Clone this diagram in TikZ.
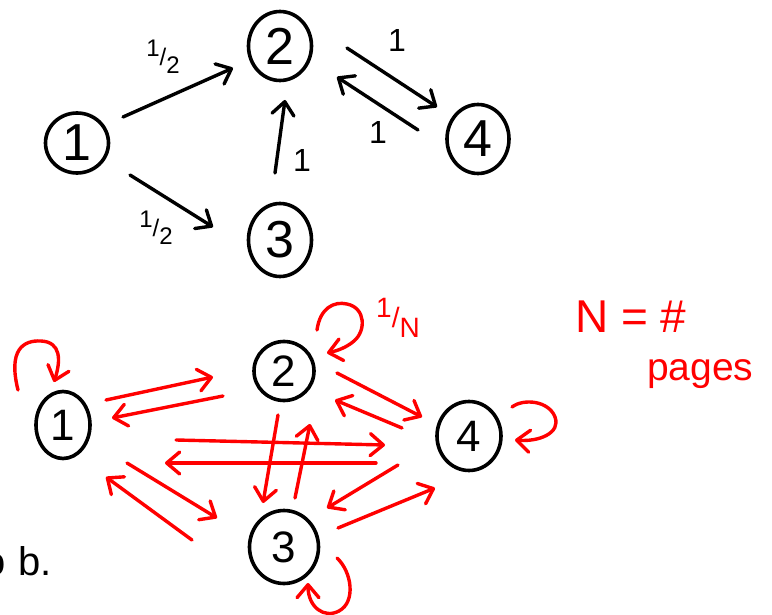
\documentclass[tikz,border=0pt]{standalone}
\usepackage{fontspec}
\setmainfont{Liberation Sans}
\usetikzlibrary{shapes.geometric,arrows.meta,calc}

% small slanted fraction such as 1/2
\newcommand\slfrac[2]{\raisebox{0.36em}{#1}/\raisebox{-0.34em}{#2}}

\tikzset{
  state/.style={ellipse, draw, line width=3.6pt, inner sep=0pt,
                font=\fontsize{52}{52}\selectfont},
  bstate/.style={state, font=\fontsize{44}{44}\selectfont},
  arr/.style={line width=3.4pt, line cap=round, line join=round,
              -{Straight Barb[round,length=13pt,width=22pt]}},
  rarr/.style={arr, red},
  wlabel/.style={inner sep=0pt, font=\fontsize{32}{32}\selectfont},
  flabel/.style={inner sep=0pt, font=\fontsize{24}{24}\selectfont},
}

\begin{document}
\begin{tikzpicture}[x=1pt,y=-1pt]
\useasboundingbox (0,0) rectangle (772,615);

% ---------- upper graph: link weights ----------
\node[state, minimum width=63pt, minimum height=60pt] (n1) at (77,143) {1};
\node[state, minimum width=63pt, minimum height=69pt] (n2) at (280,46) {2};
\node[state, minimum width=63pt, minimum height=73pt] (n3) at (280,240) {3};
\node[state, minimum width=62pt, minimum height=69pt] (n4) at (478,139) {4};

\draw[arr] ($(n1)+(46,-26)$) -- ($(n2)+(-47,22)$);
\draw[arr] ($(n1)+(53,32)$) -- ($(n3)+(-67,-13)$);
\draw[arr] ($(n3)+(-5,-67)$) -- ($(n2)+(5,54)$);
\draw[arr] ($(n2)+(67,2)$) -- ($(n4)+(-41,-32)$);
\draw[arr] ($(n4)+(-60,-9)$) -- ($(n2)+(57,31)$);

\node[flabel] (w12) at (163,57) {\slfrac{1}{2}};
\node[flabel] (w13) at (156,228) {\slfrac{1}{2}};
\node[wlabel] (w32) at (302,160) {1};
\node[wlabel] (w24) at (397,40) {1};
\node[wlabel] (w42) at (378,132) {1};

% ---------- lower graph: uniform jumps ----------
\node[bstate, minimum width=54pt, minimum height=67pt] (m1) at (63,425) {1};
\node[bstate, minimum width=60pt, minimum height=59pt] (m2) at (284,371) {2};
\node[bstate, minimum width=69pt, minimum height=73pt] (m3) at (284,547) {3};
\node[bstate, minimum width=64pt, minimum height=69pt] (m4) at (469,436) {4};

\draw[rarr] ($(m1)+(43,-25)$) -- ($(m2)+(-71,6)$);
\draw[rarr] ($(m2)+(-61,25)$) -- ($(m1)+(49,-7)$);
\draw[rarr] ($(m1)+(113,15)$) -- ($(m4)+(-84,9)$);
\draw[rarr] ($(m4)+(-93,27)$) -- ($(m1)+(102,38)$);
\draw[rarr] ($(m2)+(-6,44)$) -- ($(m3)+(-21,-44)$);
\draw[rarr] ($(m3)+(11,-49)$) -- ($(m2)+(26,53)$);
\draw[rarr] ($(m1)+(64,38)$) -- ($(m3)+(-67,-29)$);
\draw[rarr] ($(m3)+(-92,-7)$) -- ($(m1)+(43,52)$);
\draw[rarr] ($(m2)+(53,2)$) -- ($(m4)+(-47,-19)$);
\draw[rarr] ($(m4)+(-67,-8)$) -- ($(m2)+(51,29)$);
\draw[rarr] ($(m4)+(-71,29)$) -- ($(m3)+(43,-39)$);
\draw[rarr] ($(m3)+(54,-19)$) -- ($(m4)+(-34,52)$);

% self loops
\draw[rarr] ($(m1)+(-45,-35)$) .. controls ($(m1)+(-55,-75)$) and ($(m1)+(-40,-85)$)
  .. ($(m1)+(-22,-84)$) .. controls ($(m1)+(-2,-83)$) and ($(m1)+(-2,-65)$) .. ($(m1)+(-9,-43)$);
\draw[rarr] ($(m2)+(33,-41)$) .. controls ($(m2)+(36,-63)$) and ($(m2)+(50,-70)$)
  .. ($(m2)+(63,-67)$) .. controls ($(m2)+(82,-63)$) and ($(m2)+(82,-40)$)
  .. ($(m2)+(70,-30)$) .. controls ($(m2)+(62,-23)$) and ($(m2)+(52,-20)$) .. ($(m2)+(43,-18)$);
\draw[rarr] ($(m4)+(43,-29)$) .. controls ($(m4)+(55,-38)$) and ($(m4)+(80,-35)$)
  .. ($(m4)+(86,-19)$) .. controls ($(m4)+(92,-3)$) and ($(m4)+(70,6)$) .. ($(m4)+(46,4)$);
\draw[rarr] ($(m3)+(53,11)$) .. controls ($(m3)+(68,25)$) and ($(m3)+(72,55)$)
  .. ($(m3)+(55,64)$) .. controls ($(m3)+(40,72)$) and ($(m3)+(24,60)$) .. ($(m3)+(24,36)$);

\node[flabel, red, font=\fontsize{28}{28}\selectfont] (wn) at (398,318) {\slfrac{1}{N}};

% note on the right
\node[red, inner sep=0pt, anchor=base west, font=\fontsize{46}{46}\selectfont] (nn) at (575,332) {N = \#};
\node[red, inner sep=0pt, anchor=base west, font=\fontsize{39}{39}\selectfont] (pg) at (647,380) {pages};

% word fragment at the left edge
\node[inner sep=0pt, anchor=base west, font=\fontsize{40}{40}\selectfont] (ob) at (-17,575) {o\kern13pt b.};
\end{tikzpicture}
\end{document}
